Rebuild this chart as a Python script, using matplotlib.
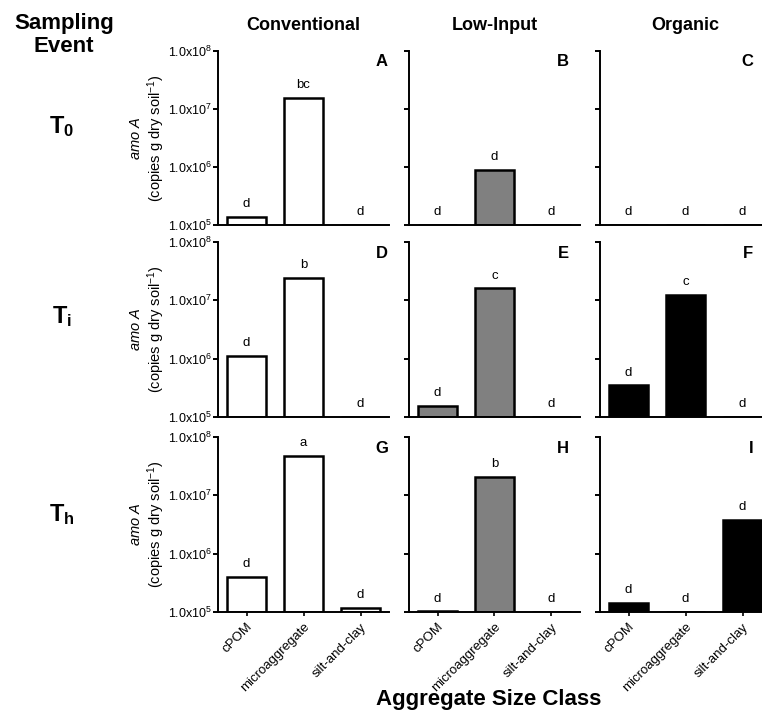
import numpy as np
import matplotlib
matplotlib.use("Agg")
from matplotlib import pyplot as plt

plt.rcParams['font.family'] = ['Liberation Sans', 'DejaVu Sans']
plt.rcParams['mathtext.fontset'] = 'custom'
plt.rcParams['mathtext.rm'] = 'Liberation Sans'
plt.rcParams['mathtext.it'] = 'Liberation Sans:italic'
plt.rcParams['mathtext.bf'] = 'Liberation Sans:bold'

classes = ['cPOM', 'microaggregate', 'silt-and-clay']
systems = ['Conventional', 'Low-Input', 'Organic']
events = [r'$\mathbf{T_0}$', r'$\mathbf{T_i}$', r'$\mathbf{T_h}$']
panels = ['A', 'B', 'C', 'D', 'E', 'F', 'G', 'H', 'I']

# amoA copies per g dry soil, rows = sampling event, cols = aggregate class
conventional = [[1.4e5, 1.55e7, 1e5],
                [1.12e6, 2.4e7, 1e5],
                [4.0e5, 4.7e7, 1.19e5]]
low_input = [[1.02e5, 8.9e5, 1e5],
             [1.55e5, 1.6e7, 1e5],
             [1.02e5, 2.1e7, 1e5]]
organic = [[1e5, 1e5, 1e5],
           [3.5e5, 1.23e7, 1e5],
           [1.43e5, 1e5, 3.8e6]]

conv_letters = [['d', 'bc', 'd'], ['d', 'b', 'd'], ['d', 'a', 'd']]
low_letters = [['d', 'd', 'd'], ['d', 'c', 'd'], ['d', 'b', 'd']]
org_letters = [['d', 'd', 'd'], ['d', 'c', 'd'], ['d', 'd', 'd']]

yticks = [1e5, 1e6, 1e7, 1e8]
ytick_labels = [r'1.0x10$^{5}$', r'1.0x10$^{6}$', r'1.0x10$^{7}$', r'1.0x10$^{8}$']

data = [conventional, low_input, organic]
letters = [conv_letters, low_letters, org_letters]
fills = ['white', '#808080', 'black']
BASE = 1e5

W, H = 762, 717
fig = plt.figure(figsize=(W / 100, H / 100), dpi=100)

col_left = [218, 409, 600]
row_top = [51, 242, 437]
row_h = [174, 175, 175]
ax_w = 171
letter_x = [0.994, 0.936, 0.895]

x = np.arange(3)
for r in range(3):
    for c in range(3):
        ax = fig.add_axes([col_left[c] / W, (H - row_top[r] - row_h[r]) / H,
                           ax_w / W, row_h[r] / H])
        vals = np.array(data[c][r])
        ax.bar(x, vals - BASE, bottom=BASE, width=0.68, color=fills[c],
               edgecolor='black', linewidth=1.8)
        for i in range(3):
            ax.annotate(letters[c][r][i], (x[i], max(vals[i], BASE)),
                        xytext=(0, 7), textcoords='offset points',
                        ha='center', va='baseline', fontsize=9.5)
        ax.set_yscale('log')
        ax.set_ylim(1e5, 1e8)
        ax.set_xlim(-0.5, 2.5)
        ax.spines['top'].set_visible(False)
        ax.spines['right'].set_visible(False)
        ax.spines['left'].set_linewidth(1.4)
        ax.spines['bottom'].set_linewidth(1.4)
        ax.yaxis.set_minor_locator(matplotlib.ticker.NullLocator())
        ax.set_yticks(yticks)
        ax.tick_params(axis='y', length=3.5, width=1.4, pad=1)
        if c == 0:
            ax.set_yticklabels(ytick_labels, fontsize=9)
        else:
            ax.set_yticklabels([])
        ax.set_xticks(x)
        if r == 2:
            ax.set_xticklabels(classes, rotation=45, ha='right',
                               rotation_mode='anchor', fontsize=9.5)
            ax.tick_params(axis='x', length=3, width=1.2)
        else:
            ax.set_xticklabels([])
            ax.tick_params(axis='x', length=0)
        ax.text(letter_x[c], 0.937, panels[r * 3 + c], transform=ax.transAxes,
                ha='right', va='center', fontsize=12, fontweight='bold')
        if c == 0:
            yc = (H - row_top[r] - row_h[r] / 2) / H
            fig.text(148 / W, yc, r'$\it{amo\ A}$' + '\n' + r'(copies g dry soil$^{-1}$)',
                     rotation=90, ha='center', va='center', fontsize=10.5,
                     linespacing=1.15)
        if r == 0:
            fig.text((col_left[c] + ax_w / 2) / W, (H - 25) / H, systems[c],
                     ha='center', va='center', fontsize=13, fontweight='bold')

fig.text(64 / W, (H - 35) / H, 'Sampling\nEvent', ha='center', va='center',
         fontsize=16, fontweight='bold', linespacing=1.15)
event_y = [127, 317, 515]
for r in range(3):
    fig.text(62 / W, (H - event_y[r]) / H, events[r], ha='center', va='center',
             fontsize=17)

fig.text(489 / W, (H - 699) / H, 'Aggregate Size Class', ha='center', va='center',
         fontsize=16, fontweight='bold')

fig.savefig('out.png', dpi=100)
